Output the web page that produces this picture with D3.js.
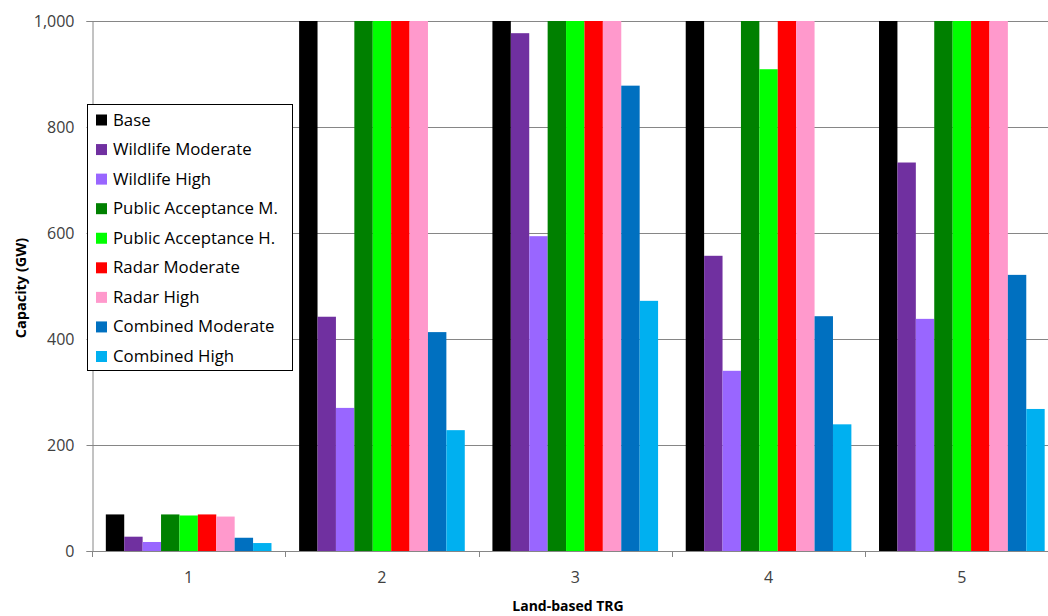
<!DOCTYPE html>
<html>
<head>
<meta charset="utf-8">
<script src="https://cdn.jsdelivr.net/npm/d3@7"></script>
<style>
  html, body { margin: 0; padding: 0; background: #fff; }
  svg { display: block; font-family: "Open Sans", Lato, sans-serif; }
</style>
</head>
<body>
<svg id="chart" width="1048" height="616"></svg>
<script>
// Land-based TRG capacity by scenario (GW); bars above 1,000 are cut at the axis top
const categories = ["1", "2", "3", "4", "5"];
const seriesNames = [
  "Base", "Wildlife Moderate", "Wildlife High",
  "Public Acceptance M.", "Public Acceptance H.",
  "Radar Moderate", "Radar High",
  "Combined Moderate", "Combined High"
];
const seriesColors = [
  "#000000", "#7030A0", "#9966FF",
  "#008000", "#00FF00",
  "#FF0000", "#FF99CC",
  "#0070C0", "#00B0F0"
];
const base              = [69, 1000, 1000, 1000, 1000];
const wildlifeModerate  = [27, 442, 977, 557, 733];
const wildlifeHigh      = [17, 270, 594, 340, 438];
const publicAcceptanceM = [69, 1000, 1000, 1000, 1000];
const publicAcceptanceH = [67, 1000, 1000, 909, 1000];
const radarModerate     = [69, 1000, 1000, 1000, 1000];
const radarHigh         = [65, 1000, 1000, 1000, 1000];
const combinedModerate  = [25, 413, 878, 443, 521];
const combinedHigh      = [15, 228, 472, 239, 268];
const yTicks = [0, 200, 400, 600, 800, 1000];

const seriesValues = [
  base, wildlifeModerate, wildlifeHigh,
  publicAcceptanceM, publicAcceptanceH,
  radarModerate, radarHigh,
  combinedModerate, combinedHigh
];

const svg = d3.select("#chart");
const plotLeft = 92, plotTop = 21, plotBottom = 551;
const plotRight = 92 + 5 * 193.3;

const x = d3.scaleBand().domain(categories).range([plotLeft, plotRight])
  .paddingInner(0.143).paddingOuter(0.0715);
const xs = d3.scaleBand().domain(seriesNames).range([0, x.bandwidth()]);
const y = d3.scaleLinear().domain([0, 1000]).range([plotBottom, plotTop]);

const axisColor = "#868686";
const textColor = "#404040";

// horizontal gridlines
svg.append("g").selectAll("line").data(yTicks.filter(d => d > 0)).join("line")
  .attr("x1", plotLeft).attr("x2", plotRight)
  .attr("y1", d => y(d) + 0.5).attr("y2", d => y(d) + 0.5)
  .attr("stroke", axisColor).attr("stroke-width", 1);

// bars
svg.append("defs").append("clipPath").attr("id", "plotClip")
  .append("rect").attr("x", plotLeft).attr("y", plotTop)
  .attr("width", plotRight - plotLeft).attr("height", plotBottom - plotTop);

const barsG = svg.append("g").attr("clip-path", "url(#plotClip)");
seriesNames.forEach((name, si) => {
  barsG.append("g").selectAll("rect").data(categories).join("rect")
    .attr("x", (c) => x(c) + xs(name))
    .attr("width", xs.bandwidth())
    .attr("y", (c, i) => y(seriesValues[si][i]))
    .attr("height", (c, i) => y(0) - y(seriesValues[si][i]))
    .attr("fill", seriesColors[si]);
});

// y axis
const yAxis = svg.append("g").attr("transform", `translate(${plotLeft + 0.5},0)`)
  .call(d3.axisLeft(y).tickValues(yTicks).tickSize(6).tickPadding(12)
    .tickFormat(d3.format(",")));
yAxis.select(".domain").attr("stroke", axisColor);
yAxis.selectAll(".tick line").attr("stroke", axisColor);
yAxis.selectAll(".tick text").attr("fill", textColor)
  .style("font-size", "16px").style("font-family", "'Open Sans', Lato, sans-serif");

// x axis line with ticks between categories
const xAxisG = svg.append("g");
xAxisG.append("line").attr("x1", plotLeft).attr("x2", plotRight)
  .attr("y1", plotBottom + 0.5).attr("y2", plotBottom + 0.5).attr("stroke", axisColor);
const step = x.step();
const bounds = d3.range(categories.length + 1)
  .map(i => x(categories[0]) - step * x.paddingOuter() + i * step);
xAxisG.selectAll("line.tk").data(bounds).join("line").attr("class", "tk")
  .attr("x1", d => Math.round(d) + 0.5).attr("x2", d => Math.round(d) + 0.5)
  .attr("y1", plotBottom).attr("y2", plotBottom + 6).attr("stroke", axisColor);
xAxisG.selectAll("text").data(categories).join("text")
  .attr("x", d => x(d) + x.bandwidth() / 2).attr("y", 583)
  .attr("text-anchor", "middle").attr("fill", textColor)
  .style("font-size", "16px").text(d => d);

// axis titles
svg.append("text").attr("x", 568).attr("y", 611).attr("text-anchor", "middle")
  .style("font-size", "14px").style("font-weight", "bold").attr("fill", "#000")
  .text("Land-based TRG");
svg.append("text").attr("transform", "translate(26,288) rotate(-90)")
  .attr("text-anchor", "middle")
  .style("font-size", "14.5px").style("font-weight", "bold").attr("fill", "#000")
  .text("Capacity (GW)");

// legend
const lg = svg.append("g");
lg.append("rect").attr("x", 87.5).attr("y", 104.5).attr("width", 205).attr("height", 266)
  .attr("fill", "#fff").attr("stroke", "#000").attr("stroke-width", 1);
const rowY = d3.scalePoint().domain(seriesNames).range([119.5, 356]);
const items = lg.selectAll("g.item").data(seriesNames).join("g").attr("class", "item")
  .attr("transform", d => `translate(0,${rowY(d)})`);
items.append("rect").attr("x", 96).attr("y", -5).attr("width", 11).attr("height", 11)
  .attr("fill", (d, i) => seriesColors[i]);
items.append("text").attr("x", 113).attr("y", 6)
  .style("font-size", "16.8px").attr("fill", "#000").text(d => d);
</script>
</body>
</html>
